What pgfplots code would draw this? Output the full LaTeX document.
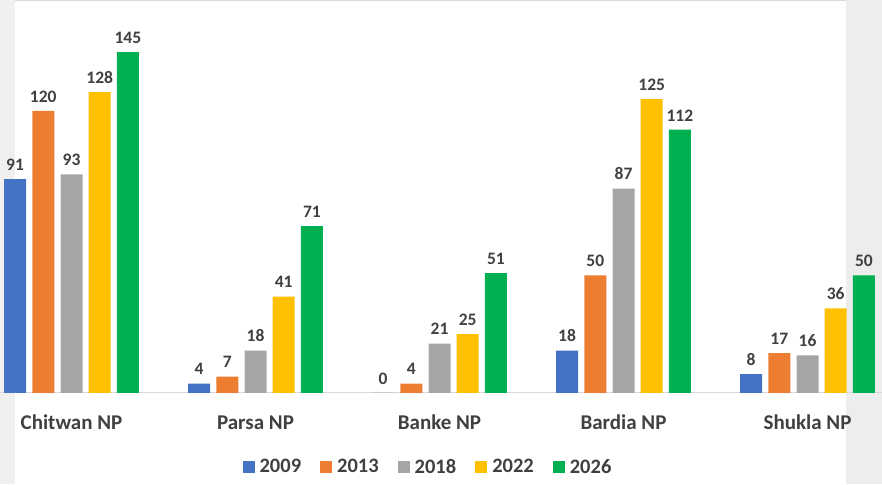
\documentclass[border=0pt]{standalone}
\usepackage{fontspec}
\setmainfont{Carlito}
\usepackage{pgfplots}
\pgfplotsset{compat=1.18}
\definecolor{c09}{HTML}{4472C4}
\definecolor{c13}{HTML}{ED7D31}
\definecolor{c18}{HTML}{A5A5A5}
\definecolor{c22}{HTML}{FFC000}
\definecolor{c26}{HTML}{00B050}
\definecolor{txt}{HTML}{404040}
\begin{document}
\begin{tikzpicture}
\path[use as bounding box] (0,0) rectangle (882pt,484pt);
\fill[white] (0,0) rectangle (882pt,484pt);
\fill[black!6] (0,0) rectangle (15pt,484pt);
\fill[black!7] (846pt,0) rectangle (882pt,484pt);
\fill[black!15] (15pt,483pt) rectangle (846pt,484pt);
\begin{axis}[
  at={(0pt,91pt)}, anchor=south west,
  scale only axis, width=882pt, height=393pt,
  xmin=-0.3886, xmax=4.4049, ymin=0, ymax=167.2,
  clip=false,
  /pgf/number format/assume math mode=true,
  ybar=6.2pt, bar width=22pt,
  axis y line=none, axis x line*=bottom,
  x axis line style={draw=black!15, line width=1pt},
  ytick=\empty,
  xtick={0,1,2,3,4},
  xticklabels={Chitwan NP,Parsa NP,Banke NP,Bardia NP,Shukla NP},
  major tick length=0pt,
  xticklabel style={anchor=base, yshift=-36pt, font=\fontsize{21}{21}\selectfont\bfseries, text=txt},
  nodes near coords,
  every node near coord/.append style={anchor=south, inner sep=0pt, yshift=8.5pt, font=\fontsize{17.5}{17.5}\selectfont\bfseries, text=txt},
  legend columns=-1,
  legend style={at={(rel axis cs:0.4841,-0.1883)}, anchor=center, draw=none, fill=none,
    font=\fontsize{20.5}{20.5}\selectfont\bfseries, text=txt,
    /tikz/every odd column/.append style={column sep=5pt},
    /tikz/every even column/.append style={column sep=19pt},
    nodes={inner sep=0pt}},
  legend image code/.code={\fill[#1] (0pt,-6pt) rectangle (12pt,6pt);},
]
\addplot[fill=c09, draw=none] coordinates {(0,91) (1,4) (2,0) (3,18) (4,8)};
\addplot[fill=c13, draw=none] coordinates {(0,120) (1,7) (2,4) (3,50) (4,17)};
\addplot[fill=c18, draw=none] coordinates {(0,93) (1,18) (2,21) (3,87) (4,16)};
\addplot[fill=c22, draw=none] coordinates {(0,128) (1,41) (2,25) (3,125) (4,36)};
\addplot[fill=c26, draw=none] coordinates {(0,145) (1,71) (2,51) (3,112) (4,50)};
\legend{2009,2013,2018,2022,2026}
\end{axis}
\end{tikzpicture}
\end{document}
